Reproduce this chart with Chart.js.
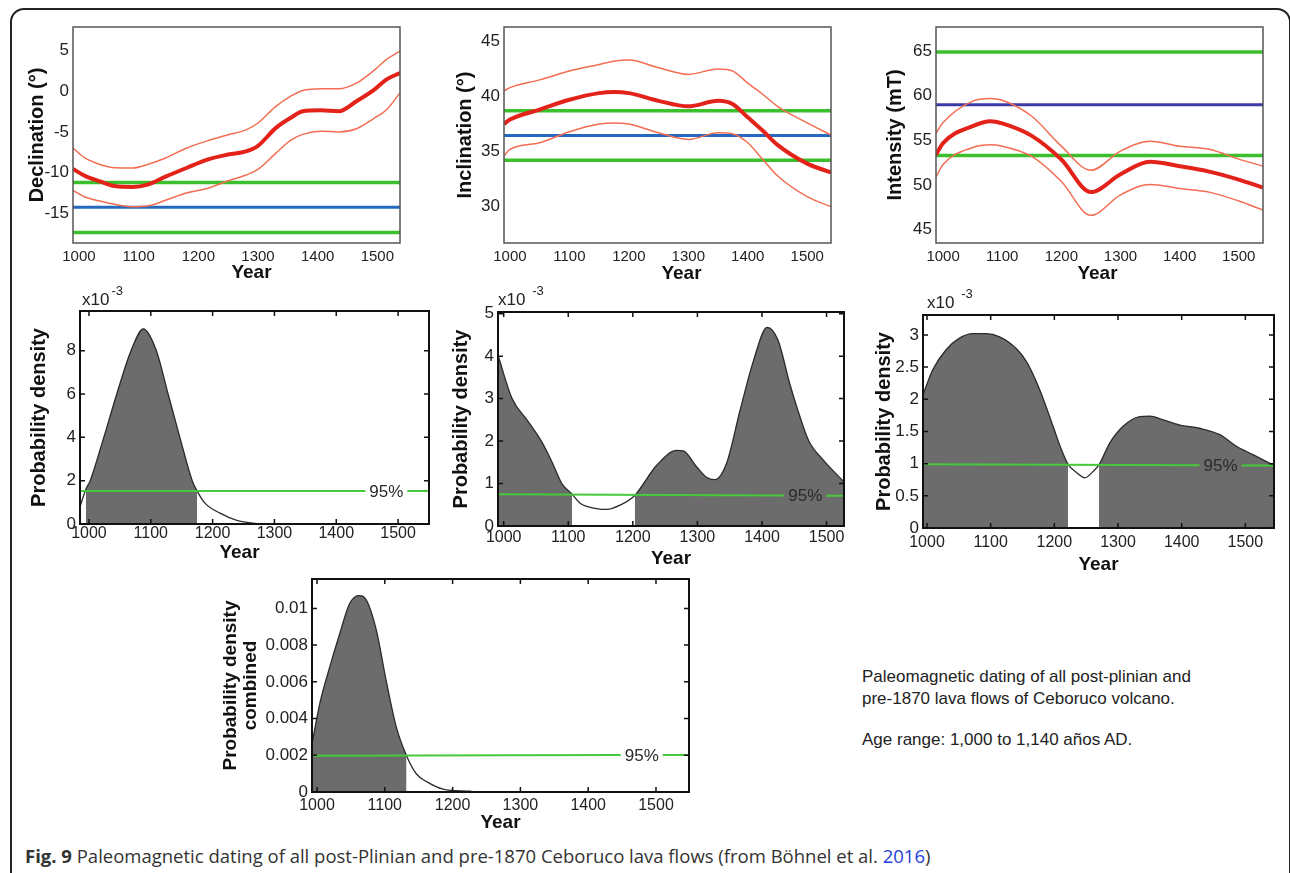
<!DOCTYPE html>
<html>
<head>
<meta charset="utf-8">
<script src="https://cdn.jsdelivr.net/npm/chart.js@4.4.1/dist/chart.umd.min.js"></script>
<style>
  body { margin: 0; background: #fff; width: 1290px; height: 873px; overflow: hidden; position: relative; font-family: 'Liberation Sans', Arial, sans-serif; }
  canvas { position: absolute; }
  #frame { position: absolute; left: 10px; top: 8px; width: 1281px; height: 900px; border: 2px solid #222; border-radius: 14px; box-sizing: border-box; }
  .exp { position: absolute; font-size: 17px; color: #222; z-index: 2; }
  .exp sup { font-size: 13px; position: relative; top: -3px; margin-left: 2px; }
  .note { position: absolute; left: 862px; font-size: 17px; color: #222; line-height: 22px; }
  #caption { position: absolute; left: 25px; top: 845px; font-family: 'Open Sans', 'Noto Sans', sans-serif; font-size: 18.5px; line-height: 22px; color: #333; white-space: nowrap; }
  #caption a { color: #1f3fd6; text-decoration: none; }
</style>
</head>
<body>
<div id="frame"></div>
<canvas id="c1"></canvas>
<canvas id="c2"></canvas>
<canvas id="c3"></canvas>
<canvas id="c4"></canvas>
<canvas id="c5"></canvas>
<canvas id="c6"></canvas>
<canvas id="c7"></canvas>
<div class="exp" style="left:82px;top:286px">x10<sup>-3</sup></div>
<div class="exp" style="left:498px;top:286px">x10 <sup>-3</sup></div>
<div class="exp" style="left:927px;top:289px">x10 <sup>-3</sup></div>
<div class="note" style="top:666px">Paleomagnetic dating of all post-plinian and<br>pre-1870 lava flows of Ceboruco volcano.</div>
<div class="note" style="top:729px">Age range: 1,000 to 1,140 años AD.</div>
<div id="caption"><b>Fig. 9</b> Paleomagnetic dating of all post-Plinian and pre-1870 Ceboruco lava flows (from Böhnel et al. <a>2016</a>)</div>
<script>
// ---- data ----
var yearTicks = [1000, 1100, 1200, 1300, 1400, 1500];

// declination (deg)
var declYears = [990, 1010, 1035, 1060, 1090, 1115, 1145, 1180, 1215, 1250, 1280, 1300, 1330, 1355, 1375, 1405, 1435, 1465, 1495, 1515, 1538];
var declMean  = [-9.55, -10.4, -11.07, -11.65, -11.76, -11.48, -10.5, -9.43, -8.4, -7.78, -7.38, -6.7, -4.5, -3.25, -2.46, -2.34, -2.46, -1.23, 0.2, 1.43, 2.25];
var declUpper = [-6.97, -8.2, -9.0, -9.4, -9.43, -9.0, -8.2, -7.0, -6.1, -5.35, -4.75, -3.9, -1.85, -0.6, 0.1, 0.3, 0.3, 1.0, 2.6, 3.9, 4.92];
var declLower = [-12.17, -13.0, -13.5, -13.9, -14.2, -14.1, -13.4, -12.5, -11.95, -11.0, -10.3, -9.6, -7.6, -6.0, -5.3, -4.92, -5.0, -4.6, -3.3, -2.3, -0.2];
var declGreen = [-11.2, -17.35];
var declBlue = -14.25;
var declTicks = [-15, -10, -5, 0, 5];

// inclination (deg)
var inclYears = [990, 1000, 1050, 1100, 1150, 1175, 1200, 1250, 1300, 1350, 1375, 1400, 1425, 1450, 1500, 1540];
var inclMean  = [37.5, 37.9, 38.8, 39.7, 40.3, 40.4, 40.3, 39.6, 39.1, 39.6, 39.3, 38.1, 36.9, 35.6, 33.9, 33.1];
var inclUpper = [40.5, 40.8, 41.5, 42.3, 42.9, 43.2, 43.3, 42.6, 42.0, 42.5, 42.3, 41.2, 40.2, 39.1, 37.6, 36.5];
var inclLower = [34.6, 35.2, 35.8, 36.8, 37.5, 37.6, 37.5, 36.7, 36.1, 36.7, 36.6, 35.8, 34.3, 32.8, 30.9, 30.0];
var inclGreen = [38.7, 34.2];
var inclBlue = 36.45;
var inclTicks = [30, 35, 40, 45];

// intensity (mT)
var intYears = [988, 1000, 1050, 1080, 1100, 1150, 1200, 1250, 1300, 1350, 1400, 1450, 1500, 1541];
var intMean  = [53.4, 54.7, 56.6, 57.15, 56.9, 55.5, 52.85, 49.2, 51.2, 52.6, 52.1, 51.5, 50.6, 49.7];
var intUpper = [55.8, 57.0, 59.4, 59.7, 59.5, 57.7, 54.35, 51.65, 53.8, 54.9, 54.35, 54.0, 52.9, 52.1];
var intLower = [50.9, 52.3, 54.2, 54.5, 54.35, 53.2, 50.4, 46.6, 48.9, 50.05, 49.6, 49.2, 48.2, 47.2];
var intGreen = [64.9, 53.3];
var intBlue = 59.0;
var intTicks = [45, 50, 55, 60, 65];

// probability density, declination (x1e-3)
var pd1Years = [985.5, 995, 1002, 1024, 1045, 1068, 1088, 1109, 1128, 1147, 1167, 1175, 1188, 1212, 1238, 1268, 1290, 1550];
var pd1Dens  = [0.8, 1.6, 2.0, 4.0, 6.0, 8.0, 9.0, 8.0, 6.0, 4.0, 2.0, 1.52, 0.95, 0.5, 0.18, 0.03, 0, 0];
var pd1Bands = [[995, 1175]];
var pd1Level = [1.52, 1.52];
var pd1Ticks = [0, 2, 4, 6, 8];

// probability density, inclination (x1e-3)
var pd2Years = [991.2, 1013, 1036, 1059, 1075, 1090, 1106, 1119, 1144, 1160, 1180, 1203, 1237, 1268, 1278, 1299, 1314, 1327, 1345, 1366, 1387, 1408, 1425, 1443, 1454, 1472, 1495, 1527];
var pd2Dens  = [4.02, 3.0, 2.5, 1.98, 1.5, 1.0, 0.75, 0.53, 0.41, 0.39, 0.49, 0.72, 1.43, 1.78, 1.77, 1.39, 1.15, 1.09, 1.47, 2.72, 3.9, 4.68, 4.37, 3.35, 2.8, 2.02, 1.55, 1.04];
var pd2Bands = [[991.2, 1106], [1203, 1527]];
var pd2Level = [0.745, 0.71];
var pd2Ticks = [0, 1, 2, 3, 4, 5];

// probability density, intensity (x1e-3)
var pd3Years = [993.7, 1009, 1030, 1051, 1072, 1093, 1114, 1140, 1156, 1177, 1198, 1211, 1221.5, 1235, 1248, 1261, 1270, 1287, 1308, 1334, 1350, 1371, 1397, 1428, 1460, 1486, 1512, 1545];
var pd3Dens  = [2.07, 2.46, 2.77, 2.95, 3.02, 3.02, 2.97, 2.79, 2.59, 2.15, 1.58, 1.22, 0.99, 0.86, 0.78, 0.88, 0.98, 1.32, 1.58, 1.73, 1.74, 1.68, 1.60, 1.55, 1.45, 1.27, 1.14, 0.97];
var pd3Bands = [[993.7, 1221.5], [1270, 1545]];
var pd3Level = [0.99, 0.97];
var pd3Ticks = [0, 0.5, 1, 1.5, 2, 2.5, 3];

// combined probability density
var pdcYears = [992.6, 1004, 1018.7, 1033.5, 1048, 1061.5, 1073, 1087.6, 1102, 1117, 1132, 1146.7, 1161, 1186, 1225, 1240, 1548.7];
var pdcDens  = [0.00262, 0.0048, 0.0068, 0.00862, 0.01025, 0.0107, 0.01044, 0.0088, 0.00607, 0.00353, 0.00198, 0.00098, 0.00058, 0.00016, 0.00004, 0, 0];
var pdcBands = [[992.6, 1132]];
var pdcLevel = [0.00198, 0.00202];
var pdcTicks = [0, 0.002, 0.004, 0.006, 0.008, 0.01];

// ---- drawing ----
Chart.defaults.font.family = "'Liberation Sans', Arial, sans-serif";
Chart.defaults.color = '#222';

var PAD_TOP = 16, PAD_RIGHT = 10;
var LABEL_GAP = 21; // half width, px, of the break in the 95% line

// plot frame, inner ticks, "Year" title and the 95% label
var framePlugin = {
  id: 'frame',
  afterDatasetsDraw: function (chart, args, o) {
    var ctx = chart.ctx, a = chart.chartArea, x = chart.scales.x, y = chart.scales.y;
    ctx.save();
    if (o.label) {
      ctx.font = '17px "Liberation Sans", Arial, sans-serif';
      ctx.fillStyle = '#2a2a2a';
      ctx.textAlign = 'center';
      ctx.textBaseline = 'middle';
      ctx.fillText('95%', x.getPixelForValue(o.label.x), y.getPixelForValue(o.label.y) + 1);
    }
    ctx.strokeStyle = o.color;
    ctx.lineWidth = o.width;
    ctx.strokeRect(a.left, a.top, a.right - a.left, a.bottom - a.top);
    if (o.innerTicks) {
      ctx.lineWidth = 1.5;
      ctx.beginPath();
      x.ticks.forEach(function (t) {
        var p = x.getPixelForValue(t.value);
        ctx.moveTo(p, a.top); ctx.lineTo(p, a.top + 5);
        ctx.moveTo(p, a.bottom); ctx.lineTo(p, a.bottom - 5);
      });
      y.ticks.forEach(function (t) {
        var p = y.getPixelForValue(t.value);
        ctx.moveTo(a.left, p); ctx.lineTo(a.left + 5, p);
        ctx.moveTo(a.right, p); ctx.lineTo(a.right - 5, p);
      });
      ctx.stroke();
    }
    ctx.fillStyle = '#111';
    ctx.font = 'bold 19px "Liberation Sans", Arial, sans-serif';
    ctx.textAlign = 'center';
    ctx.textBaseline = 'middle';
    ctx.fillText('Year', (a.left + a.right) / 2 + o.titleShift, a.bottom + o.titleGap);
    ctx.restore();
  }
};

function pts(xs, ys) {
  return xs.map(function (v, i) { return { x: v, y: ys[i] }; });
}

function hline(x0, x1, v0, v1) {
  return [{ x: x0, y: v0 }, { x: x1, y: v1 === undefined ? v0 : v1 }];
}

function setup(id, box) {
  var c = document.getElementById(id);
  var top = box.t - PAD_TOP;
  var w = box.r + PAD_RIGHT - box.cl;
  var h = box.b + box.xh - top;
  c.width = w; c.height = h;
  c.style.left = box.cl + 'px'; c.style.top = top + 'px';
  c.style.width = w + 'px'; c.style.height = h + 'px';
  return c;
}

function axes(box, xr, yr, yt, title) {
  return {
    x: {
      type: 'linear', min: xr[0], max: xr[1],
      grid: { display: false, drawTicks: false }, border: { display: false },
      ticks: { padding: box.tp, font: { size: box.xf }, color: '#222', maxRotation: 0, autoSkip: false,
        callback: function (v) { return String(v); } },
      afterBuildTicks: function (s) { s.ticks = yearTicks.map(function (v) { return { value: v }; }); },
      afterFit: function (s) { s.height = box.xh; }
    },
    y: {
      type: 'linear', min: yr[0], max: yr[1],
      grid: { display: false, drawTicks: false }, border: { display: false },
      ticks: { padding: 4, font: { size: 17 }, color: '#222', autoSkip: false,
        callback: function (v) { return String(v); } },
      afterBuildTicks: function (s) { s.ticks = yt.map(function (v) { return { value: v }; }); },
      title: { display: true, text: title.text, padding: 0, color: '#111',
        font: { size: title.size || 20, weight: 'bold', lineHeight: title.lh || 1.2 } },
      afterFit: function (s) { s.width = box.l - box.cl; }
    }
  };
}

function baseOptions(scales, frame) {
  return {
    responsive: false, animation: false, devicePixelRatio: 1,
    layout: { padding: { top: PAD_TOP, right: PAD_RIGHT, left: 0, bottom: 0 } },
    plugins: { legend: { display: false }, tooltip: { enabled: false }, frame: frame },
    elements: { point: { radius: 0 } },
    scales: scales
  };
}

function geoChart(id, box, xs, mean, upper, lower, green, blue, blueColor, xr, yr, yt, yTitle) {
  var c = setup(id, box);
  var red = { borderColor: '#e32219', borderWidth: 4, cubicInterpolationMode: 'monotone', fill: false };
  var band = { borderColor: '#f36d52', borderWidth: 1.5, cubicInterpolationMode: 'monotone', fill: false };
  return new Chart(c, {
    type: 'line',
    data: {
      datasets: [
        Object.assign({ data: pts(xs, mean) }, red),
        Object.assign({ data: pts(xs, upper) }, band),
        Object.assign({ data: pts(xs, lower) }, band),
        { data: hline(xr[0], xr[1], green[0]), borderColor: '#3cbf2c', borderWidth: 3.5 },
        { data: hline(xr[0], xr[1], green[1]), borderColor: '#3cbf2c', borderWidth: 3.5 },
        { data: hline(xr[0], xr[1], blue), borderColor: blueColor, borderWidth: 3 }
      ]
    },
    options: baseOptions(axes(box, xr, yr, yt, { text: yTitle }),
      { color: '#555', width: 1.5, innerTicks: false, titleShift: box.ts, titleGap: box.tg }),
    plugins: [framePlugin]
  });
}

function densChart(id, box, xs, dens, bands, level, labelX, xr, yr, yt, yTitle) {
  var c = setup(id, box);
  var curve = pts(xs, dens);
  // 95% line, broken where its label sits
  var levelAt = function (v) { return level[0] + (level[1] - level[0]) * (v - xr[0]) / (xr[1] - xr[0]); };
  var gap = LABEL_GAP * (xr[1] - xr[0]) / (box.r - box.l);
  var levelLine = [
    { x: xr[0], y: level[0] },
    { x: labelX - gap, y: levelAt(labelX - gap) },
    { x: labelX, y: null },
    { x: labelX + gap, y: levelAt(labelX + gap) },
    { x: xr[1], y: level[1] }
  ];
  var sets = [
    { data: levelLine, borderColor: '#46c93a', borderWidth: 2, spanGaps: false },
    { data: curve, borderColor: '#2b2b2b', borderWidth: 1.3, cubicInterpolationMode: 'monotone', fill: false }
  ];
  bands.forEach(function (b) {
    sets.push({
      data: curve.filter(function (p) { return p.x >= b[0] && p.x <= b[1]; }),
      borderWidth: 0, borderColor: 'rgba(0,0,0,0)', backgroundColor: '#6c6c6c',
      cubicInterpolationMode: 'monotone', fill: 'origin'
    });
  });
  return new Chart(c, {
    type: 'line',
    data: { datasets: sets },
    options: baseOptions(axes(box, xr, yr, yt, yTitle),
      { color: '#111', width: 2, innerTicks: true, titleShift: box.ts, titleGap: box.tg,
        label: { x: labelX, y: levelAt(labelX) } }),
    plugins: [framePlugin]
  });
}

// plot boxes in page pixels: l/t/r/b = plot area, cl = canvas left, xh = x-axis band height
geoChart('c1', { cl: 25, l: 73, t: 27, r: 400, b: 243, xh: 47, tp: 5, xf: 15, ts: 15, tg: 30 },
  declYears, declMean, declUpper, declLower, declGreen, declBlue, '#2468c2',
  [990, 1538], [-18.65, 7.9], declTicks, 'Declination (°)');
geoChart('c2', { cl: 453, l: 504, t: 27, r: 831, b: 243, xh: 47, tp: 5, xf: 15, ts: 14, tg: 31 },
  inclYears, inclMean, inclUpper, inclLower, inclGreen, inclBlue, '#2468c2',
  [990, 1540], [26.7, 46.3], inclTicks, 'Inclination (°)');
geoChart('c3', { cl: 883, l: 936, t: 27, r: 1263, b: 243, xh: 47, tp: 5, xf: 15, ts: -2, tg: 31 },
  intYears, intMean, intUpper, intLower, intGreen, intBlue, '#3b3aa8',
  [988, 1541], [43.5, 67.7], intTicks, 'Intensity (mT)');

densChart('c4', { cl: 27, l: 80, t: 311, r: 429, b: 524, xh: 50, tp: 0, xf: 16, ts: -15, tg: 29 },
  pd1Years, pd1Dens, pd1Bands, pd1Level, 1481, [985.5, 1550], [0, 9.83], pd1Ticks,
  { text: 'Probability density' });
densChart('c5', { cl: 449, l: 498, t: 312, r: 844, b: 526, xh: 50, tp: 2, xf: 16, ts: 0, tg: 33 },
  pd2Years, pd2Dens, pd2Bands, pd2Level, 1467, [991.2, 1527], [0, 5.04], pd2Ticks,
  { text: 'Probability density' });
densChart('c6', { cl: 872, l: 923, t: 315, r: 1274, b: 528, xh: 52, tp: 5, xf: 16, ts: 0, tg: 37 },
  pd3Years, pd3Dens, pd3Bands, pd3Level, 1461, [993.7, 1545], [0, 3.31], pd3Ticks,
  { text: 'Probability density' });
densChart('c7', { cl: 221, l: 312, t: 579, r: 689, b: 792, xh: 48, tp: 4, xf: 16, ts: 0, tg: 31 },
  pdcYears, pdcDens, pdcBands, pdcLevel, 1479, [992.6, 1548.7], [0, 0.0116], pdcTicks,
  { text: ['Probability density', 'combined'], size: 19, lh: 1.05 });
</script>
</body>
</html>
